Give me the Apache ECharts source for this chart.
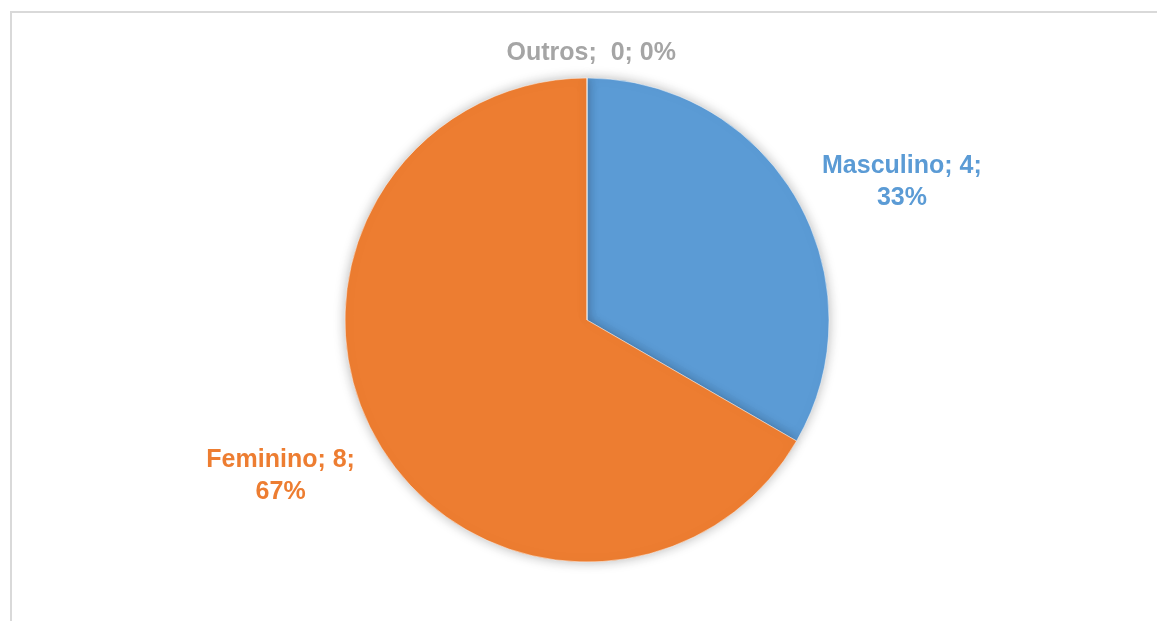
<!DOCTYPE html>
<html>
<head>
<meta charset="utf-8">
<script src="https://cdn.jsdelivr.net/npm/echarts@6/dist/echarts.min.js"></script>
<style>
html,body{margin:0;padding:0;background:#fff;}
#chart{width:1157px;height:621px;}
</style>
</head>
<body>
<div id="chart"></div>
<script>
const categories = ['Masculino', 'Feminino', 'Outros'];
const values = [4, 8, 0];
const colors = ['#5B9BD5', '#ED7D31', '#A5A5A5'];
// label offsets along the pie radius (layout only)
const lineLen = [34, 71, 24.5];
const lineLen2 = [-9, -44, -94];

const chart = echarts.init(document.getElementById('chart'), null, {renderer: 'canvas'});

const fontFamily = 'Liberation Sans, Arial, sans-serif';

const data = categories.map((name, i) => ({
  name: name,
  value: values[i],
  itemStyle: {color: colors[i]},
  label: {color: colors[i]},
  labelLine: {length: lineLen[i], length2: lineLen2[i]}
}));

chart.setOption({
  animation: false,
  backgroundColor: '#ffffff',
  graphic: [
    {type: 'line', shape: {x1: 10, y1: 12, x2: 1157, y2: 12}, style: {stroke: '#D9D9D9', lineWidth: 2}, silent: true},
    {type: 'line', shape: {x1: 11, y1: 11, x2: 11, y2: 621}, style: {stroke: '#D9D9D9', lineWidth: 2}, silent: true}
  ],
  series: [{
    type: 'pie',
    center: [587, 320],
    radius: 242,
    startAngle: 90,
    clockwise: true,
    avoidLabelOverlap: false,
    stillShowZeroSum: true,
    minShowLabelAngle: 0,
    itemStyle: {
      borderColor: 'rgba(255,255,255,0.6)',
      borderWidth: 0.8,
      shadowBlur: 12,
      shadowColor: 'rgba(0,0,0,0.28)'
    },
    label: {
      show: true,
      position: 'outside',
      fontFamily: fontFamily,
      fontSize: 25,
      fontWeight: 'bold',
      lineHeight: 32,
      formatter: function (p) {
        const pct = Math.round(p.percent) + '%';
        if (p.name === 'Outros') {
          return '{a|' + p.name + ';  ' + p.value + '; ' + pct + '}';
        }
        return '{a|' + p.name + '; ' + p.value + ';}\n{a|' + pct + '}';
      },
      rich: {
        a: {align: 'center', fontFamily: fontFamily, fontSize: 25, fontWeight: 'bold', lineHeight: 32}
      }
    },
    labelLine: {show: false},
    emphasis: {disabled: true},
    data: data
  }]
});
</script>
</body>
</html>
